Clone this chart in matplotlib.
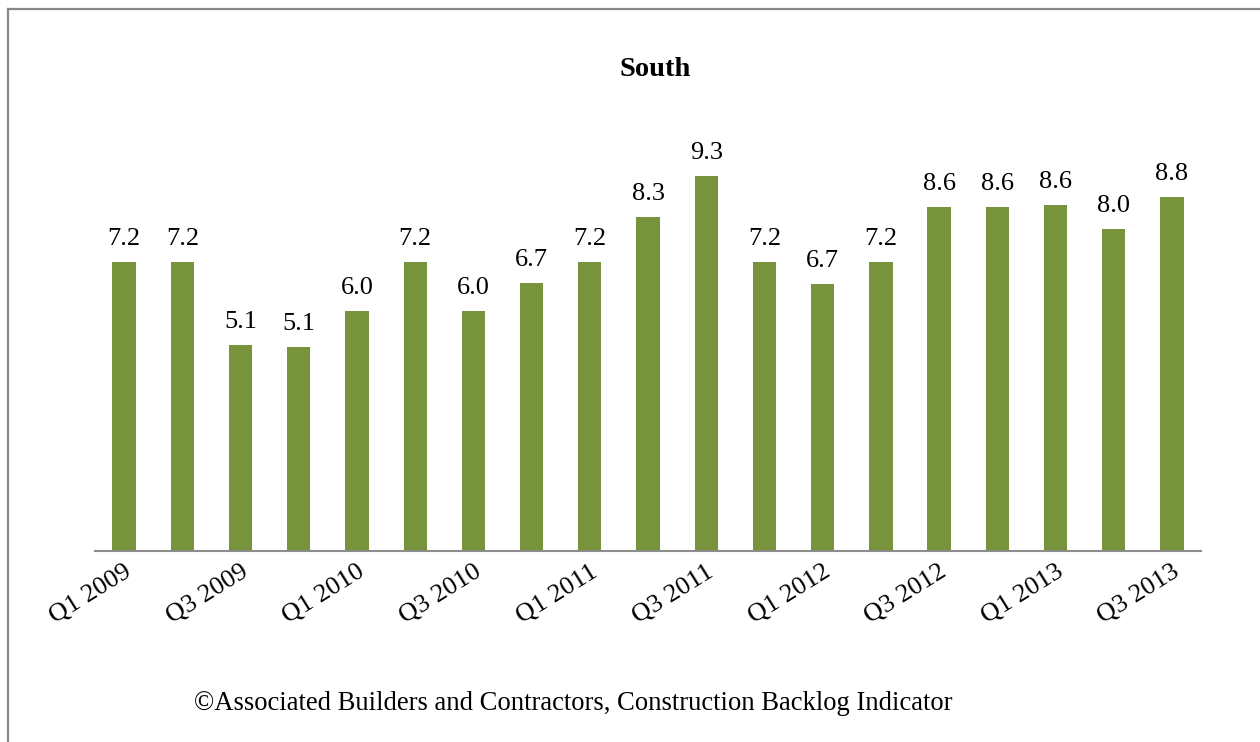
import matplotlib.pyplot as plt
from matplotlib.lines import Line2D

# Datos: indicador de backlog de construcción, región Sur
trimestres = ['Q1 2009', 'Q2 2009', 'Q3 2009', 'Q4 2009',
              'Q1 2010', 'Q2 2010', 'Q3 2010', 'Q4 2010',
              'Q1 2011', 'Q2 2011', 'Q3 2011', 'Q4 2011',
              'Q1 2012', 'Q2 2012', 'Q3 2012', 'Q4 2012',
              'Q1 2013', 'Q2 2013', 'Q3 2013']
valores = [7.2, 7.2, 5.13, 5.08,
           5.98, 7.2, 5.98, 6.68,
           7.2, 8.32, 9.34, 7.2,
           6.65, 7.2, 8.57, 8.57,
           8.62, 8.02, 8.82]

plt.rcParams['font.family'] = ['Liberation Serif', 'DejaVu Serif']

fig = plt.figure(figsize=(12.6, 7.42), dpi=100)
ax = fig.add_axes([0.0754, 0.2574, 0.8778, 0.541])

x = range(len(trimestres))
barras = ax.bar(x, valores, width=0.4, color='#77933C')
for b, v in zip(barras, valores):
    ax.text(b.get_x() + b.get_width() / 2, v + 0.3, f'{v:.1f}',
            ha='center', va='bottom', fontsize=19)

ax.set_xlim(-0.5, len(trimestres) - 0.5)
ax.set_ylim(0, 10)
ax.set_xticks(list(x)[::2])
ax.set_xticklabels(trimestres[::2], rotation=32, ha='right',
                   rotation_mode='anchor', fontsize=19)
ax.tick_params(axis='x', length=0, pad=7)
ax.set_yticks([])
for lado in ['top', 'right', 'left']:
    ax.spines[lado].set_visible(False)
ax.spines['bottom'].set_color('#8c8c8c')
ax.spines['bottom'].set_linewidth(1.5)

fig.text(655 / 1260, 1 - 70 / 742, 'South', ha='center', va='center',
         fontsize=20.5, fontweight='bold')
fig.text(573 / 1260, 1 - 703 / 742,
         '\u00a9Associated Builders and Contractors, Construction Backlog Indicator',
         ha='center', va='center', fontsize=19.2)

# marco gris (solo izquierda y arriba visibles)
fig.add_artist(Line2D([7.5 / 1260, 7.5 / 1260], [0, 1 - 8.5 / 742],
                      transform=fig.transFigure, color='#888888', lw=1.6))
fig.add_artist(Line2D([7.5 / 1260, 1], [1 - 8.5 / 742, 1 - 8.5 / 742],
                      transform=fig.transFigure, color='#888888', lw=1.6))

plt.savefig('out.png', dpi=100)
